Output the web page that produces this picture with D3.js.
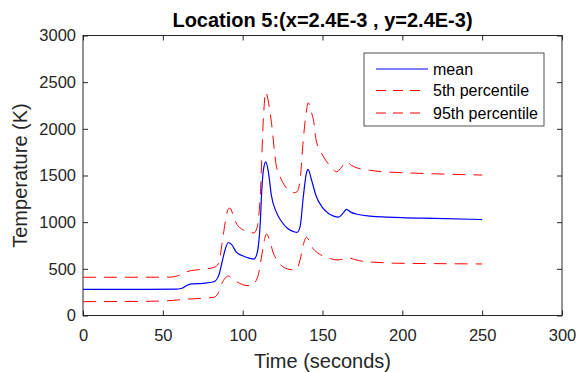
<!DOCTYPE html>
<html>
<head>
<meta charset="utf-8">
<script src="https://cdn.jsdelivr.net/npm/d3@7"></script>
<style>
  body { margin: 0; background: #fff; }
  svg { display: block; }
</style>
</head>
<body>
<svg id="chart"></svg>
<script>
// time (s) and temperature (K) for each curve
var meanTime = [0, 20, 40, 58, 62, 65, 68, 75, 82, 85, 87, 89, 91, 93, 96, 100, 104, 107, 109, 111, 112, 113, 114.5, 116, 118, 121, 124, 128, 132, 134, 136, 138, 140, 141, 143, 146, 150, 154, 157, 160, 163, 165, 168, 171, 180, 190, 200, 220, 250];
var meanTemp = [280, 280, 280, 282, 292, 322, 338, 345, 362, 430, 565, 705, 782, 762, 680, 640, 615, 603, 665, 990, 1350, 1560, 1645, 1550, 1285, 1110, 1015, 935, 898, 890, 955, 1275, 1530, 1565, 1460, 1280, 1155, 1090, 1065, 1055, 1100, 1138, 1105, 1088, 1065, 1055, 1048, 1040, 1028];

var p95Time = [0, 20, 40, 55, 60, 64, 68, 75, 82, 85, 87, 89, 91, 92, 94, 96, 100, 104, 107, 109, 111, 113, 114.5, 116, 118, 121, 124, 128, 132, 134, 136, 138, 140, 141, 143, 144.5, 146, 150, 153, 156, 159, 162, 165, 168, 171, 180, 190, 200, 220, 250];
var p95Temp = [410, 410, 410, 412, 430, 465, 482, 495, 515, 560, 760, 990, 1140, 1150, 1080, 990, 920, 895, 885, 940, 1280, 2120, 2395, 2300, 2070, 1610, 1465, 1355, 1315, 1325, 1460, 1890, 2200, 2280, 2180, 2080, 1880, 1720, 1640, 1575, 1540, 1590, 1648, 1610, 1585, 1555, 1538, 1530, 1518, 1505];

var p5Time = [0, 20, 40, 55, 60, 65, 75, 82, 85, 87, 89, 91, 94, 98, 102, 106, 108, 110, 112, 113.5, 115, 117, 119, 122, 125, 129, 132, 134, 136, 138, 140, 142, 144, 146, 150, 155, 159, 163, 166, 170, 177, 186, 196, 220, 250];
var p5Temp = [148, 150, 152, 160, 168, 175, 185, 195, 250, 345, 400, 423, 390, 345, 322, 318, 360, 450, 650, 800, 873, 800, 680, 580, 525, 495, 488, 500, 600, 760, 838, 790, 720, 684, 640, 610, 595, 605, 620, 600, 577, 568, 560, 556, 552];

var xTicks = [0, 50, 100, 150, 200, 250, 300];
var yTicks = [0, 500, 1000, 1500, 2000, 2500, 3000];
var legendLabels = ["mean", "5th percentile", "95th percentile"];

var width = 578, height = 372;
var plot = { left: 83, right: 562, top: 35.5, bottom: 315.5 };
var axisColor = "#262626";
var font = "Arial, 'Liberation Sans', Helvetica, sans-serif";

var svg = d3.select("#chart").attr("width", width).attr("height", height)
  .style("font-family", font);

var x = d3.scaleLinear().domain([0, 300]).range([plot.left, plot.right]);
var y = d3.scaleLinear().domain([0, 3000]).range([plot.bottom, plot.top]);

function zip(ts, vs) {
  return ts.map(function (t, i) { return { t: t, v: vs[i] }; });
}

svg.append("clipPath").attr("id", "clip")
  .append("rect")
  .attr("x", plot.left).attr("y", plot.top)
  .attr("width", plot.right - plot.left).attr("height", plot.bottom - plot.top);

// axes: ticks pointing inward on all four sides
function styleAxis(g) {
  g.select(".domain").remove();
  g.selectAll(".tick line").attr("stroke", axisColor);
  g.selectAll(".tick text").attr("fill", axisColor).style("font-size", "16.5px").style("font-family", font);
}

svg.append("g")
  .attr("transform", "translate(0," + plot.bottom + ")")
  .call(d3.axisBottom(x).tickValues(xTicks).tickFormat(d3.format("d")).tickSizeInner(-5).tickSizeOuter(0).tickPadding(14))
  .call(styleAxis);
svg.append("g")
  .attr("transform", "translate(0," + plot.top + ")")
  .call(d3.axisTop(x).tickValues(xTicks).tickSizeInner(-5).tickSizeOuter(0).tickFormat(""))
  .call(styleAxis);
svg.append("g")
  .attr("transform", "translate(" + plot.left + ",0)")
  .call(d3.axisLeft(y).tickValues(yTicks).tickFormat(d3.format("d")).tickSizeInner(-5).tickSizeOuter(0).tickPadding(7))
  .call(styleAxis);
svg.append("g")
  .attr("transform", "translate(" + plot.right + ",0)")
  .call(d3.axisRight(y).tickValues(yTicks).tickSizeInner(-5).tickSizeOuter(0).tickFormat(""))
  .call(styleAxis);

svg.append("rect")
  .attr("x", plot.left).attr("y", plot.top)
  .attr("width", plot.right - plot.left).attr("height", plot.bottom - plot.top)
  .attr("fill", "none").attr("stroke", axisColor).attr("stroke-width", 1);

// curves
var line = d3.line()
  .x(function (d) { return x(d.t); })
  .y(function (d) { return y(d.v); })
  .curve(d3.curveMonotoneX);

var curves = svg.append("g").attr("clip-path", "url(#clip)");
curves.append("path").attr("d", line(zip(p95Time, p95Temp)))
  .attr("fill", "none").attr("stroke", "#ff0000").attr("stroke-width", 1)
  .attr("stroke-dasharray", "13,8");
curves.append("path").attr("d", line(zip(p5Time, p5Temp)))
  .attr("fill", "none").attr("stroke", "#ff0000").attr("stroke-width", 1)
  .attr("stroke-dasharray", "13,8");
curves.append("path").attr("d", line(zip(meanTime, meanTemp)))
  .attr("fill", "none").attr("stroke", "#0000ff").attr("stroke-width", 1.2);

// title and axis labels
svg.append("text")
  .attr("x", (plot.left + plot.right) / 2).attr("y", 27)
  .attr("text-anchor", "middle")
  .style("font-size", "20px").style("font-weight", "bold").attr("fill", "#000")
  .text("Location 5:(x=2.4E-3 , y=2.4E-3)");
svg.append("text")
  .attr("x", (plot.left + plot.right) / 2).attr("y", 368)
  .attr("text-anchor", "middle")
  .style("font-size", "20px").attr("fill", axisColor)
  .text("Time (seconds)");
svg.append("text")
  .attr("transform", "translate(27," + (plot.top + plot.bottom) / 2 + ")rotate(-90)")
  .attr("text-anchor", "middle")
  .style("font-size", "20px").attr("fill", axisColor)
  .text("Temperature (K)");

// legend
var legend = svg.append("g");
legend.append("rect")
  .attr("x", 364).attr("y", 53).attr("width", 180).attr("height", 73)
  .attr("fill", "#fff").attr("stroke", axisColor).attr("stroke-width", 0.8);
var legendRows = [69, 90.5, 113];
var legendStyles = [
  { color: "#0000ff", dash: null, x2: 428 },
  { color: "#ff0000", dash: "10,7", x2: 421 },
  { color: "#ff0000", dash: "10,7", x2: 421 }
];
legendLabels.forEach(function (label, i) {
  var s = legendStyles[i];
  legend.append("line")
    .attr("x1", 376).attr("x2", s.x2)
    .attr("y1", legendRows[i]).attr("y2", legendRows[i])
    .attr("stroke", s.color).attr("stroke-width", i === 0 ? 1.2 : 1)
    .attr("stroke-dasharray", s.dash);
  legend.append("text")
    .attr("x", 433).attr("y", legendRows[i]).attr("dy", "0.35em")
    .style("font-size", "16px").attr("fill", "#000")
    .text(label);
});
</script>
</body>
</html>
